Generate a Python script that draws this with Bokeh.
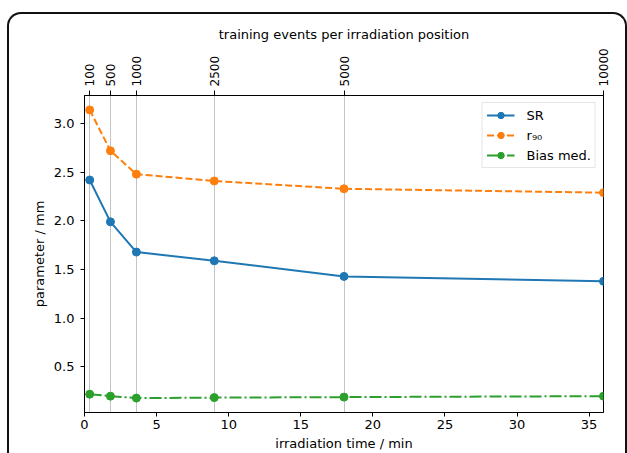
from bokeh.plotting import figure
from bokeh.models import (Range1d, LinearAxis, FixedTicker, Legend, LegendItem,
                          PrintfTickFormatter, InlineStyleSheet)
from bokeh.embed import file_html
from bokeh.resources import INLINE

# ---- data ----
events = [100, 500, 1000, 2500, 5000, 10000]
time_min = [0.36, 1.8, 3.6, 9.0, 18.0, 36.0]
sr = [2.42, 1.99, 1.68, 1.59, 1.43, 1.38]
r90 = [3.14, 2.72, 2.48, 2.41, 2.33, 2.29]
bias = [0.22, 0.20, 0.18, 0.185, 0.19, 0.20]
x_ticks = [0, 5, 10, 15, 20, 25, 30, 35]
y_ticks = [0.5, 1.0, 1.5, 2.0, 2.5, 3.0]

FONT = "DejaVu Sans"
FS = "13px"
C_SR, C_R90, C_BIAS = "#1f77b4", "#ff7f0e", "#2ca02c"

p = figure(width=627, height=453, output_backend="svg", toolbar_location=None,
           x_range=Range1d(0, 36), y_range=Range1d(0.032, 3.288),
           min_border_left=84, min_border_right=24, min_border_top=95,
           min_border_bottom=10)
p.background_fill_color = "white"
p.border_fill_color = "white"
p.outline_line_color = "black"
p.outline_line_width = 1

# rounded outer frame of the picture (decoration only)
p.stylesheets = [InlineStyleSheet(css="""
:host { position: relative; }
:host::after {
  content: ""; position: absolute; left: 7px; top: 12px; right: 0px; bottom: 0px;
  border: 2px solid #111; border-bottom: none;
  border-radius: 14px 14px 0 0; pointer-events: none;
}
""")]

def style_axis(ax):
    ax.axis_line_color = "black"
    ax.major_tick_line_color = "black"
    ax.major_tick_out = 4
    ax.major_tick_in = 0
    ax.minor_tick_line_color = None
    ax.major_label_text_font = FONT
    ax.major_label_text_font_size = FS
    ax.major_label_text_color = "black"
    ax.axis_label_text_font = FONT
    ax.axis_label_text_font_size = FS
    ax.axis_label_text_font_style = "normal"
    ax.axis_label_text_color = "black"

# bottom axis
bx = p.xaxis[0]
bx.ticker = FixedTicker(ticks=x_ticks)
bx.axis_label = "irradiation time / min"
bx.axis_label_standoff = 4
bx.major_label_standoff = 3
style_axis(bx)

# left axis
ly = p.yaxis[0]
ly.ticker = FixedTicker(ticks=y_ticks)
ly.formatter = PrintfTickFormatter(format="%.1f")
ly.axis_label = "parameter / mm"
ly.axis_label_standoff = 4
ly.major_label_standoff = 6
style_axis(ly)

# top axis: training events
top = LinearAxis(ticker=FixedTicker(ticks=time_min),
                 major_label_overrides={t: str(e) for t, e in zip(time_min, events)},
                 major_label_orientation="vertical",
                 axis_label="training events per irradiation position")
style_axis(top)
top.major_label_text_font_size = "12px"
top.major_tick_out = 5
top.major_label_standoff = 4
top.axis_label_standoff = 3
p.add_layout(top, "above")

# grid: vertical lines at the top-axis ticks only
p.ygrid.grid_line_color = None
p.xgrid.ticker = FixedTicker(ticks=time_min)
p.xgrid.grid_line_color = "#c4c4c4"
p.xgrid.grid_line_width = 1

# series
l1 = p.line(time_min, sr, line_color=C_SR, line_width=2)
s1 = p.scatter(time_min, sr, size=8, fill_color=C_SR, line_color=C_SR)
l2 = p.line(time_min, r90, line_color=C_R90, line_width=2, line_dash="7 3")
s2 = p.scatter(time_min, r90, size=8, fill_color=C_R90, line_color=C_R90)
l3 = p.line(time_min, bias, line_color=C_BIAS, line_width=2, line_dash="12 3 2 3")
s3 = p.scatter(time_min, bias, size=8, fill_color=C_BIAS, line_color=C_BIAS)

legend = Legend(items=[
    LegendItem(label="SR", renderers=[l1, s1]),
    LegendItem(label="r₉₀", renderers=[l2, s2]),
    LegendItem(label="Bias med.", renderers=[l3, s3]),
], location="top_right")
legend.margin = 7
legend.padding = 4
legend.spacing = 4
legend.glyph_width = 28
legend.glyph_height = 16
legend.label_height = 16
legend.label_standoff = 12
legend.label_text_font = FONT
legend.label_text_font_size = FS
legend.label_text_color = "black"
legend.border_line_color = "#cccccc"
legend.border_line_width = 1
legend.background_fill_alpha = 0.8
p.add_layout(legend, "center")

open("out.html", "w").write(file_html(p, INLINE))
